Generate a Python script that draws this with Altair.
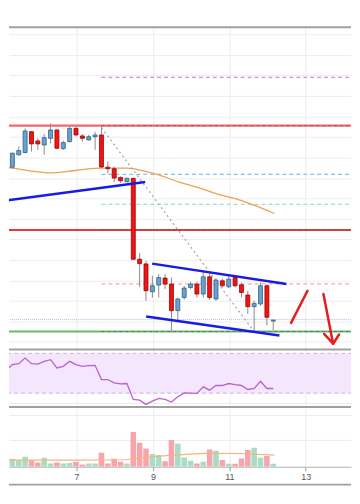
import altair as alt
import pandas as pd

# ---------------- data (4h candles) ----------------
START_DAY = 5.151
STEP_DAYS = 1 / 6

opens = [182.3, 184.3, 196.7, 199, 220, 210.7, 206.7, 213.3, 221.7, 203, 210, 223.3, 215.7, 211.7, 215,
         216.7, 184.3, 182.7, 174, 169.7, 173, 91.7, 87, 59, 65.7, 72.7, 66.7, 40, 53.3, 63.3,
         66.7, 56.7, 74, 51.7, 70, 64, 73.3, 66, 55.7, 44, 46.7, 65, 29.5]
closes = [185, 198.3, 201, 220.7, 207.7, 207.7, 214, 221.7, 203.3, 209, 223.3, 216.7, 213.3, 215, 216.7,
          184.5, 182.7, 173.3, 170.7, 173, 91.7, 87.3, 60, 65, 73.3, 66.7, 40, 51.7, 62.7, 66.7,
          56.7, 74, 53.3, 70.7, 65, 71.7, 65, 58.3, 44, 47.3, 65, 33.3, 30.5]
highs = [188.3, 199, 205, 223.3, 220.5, 213.3, 217.7, 228.3, 222.3, 211, 225, 225, 217.7, 216.7, 220,
         225, 190, 185, 175, 174, 174, 98, 90, 75, 76.7, 76.7, 73.3, 53.3, 65, 69,
         69, 79.3, 78.3, 72.3, 72.3, 75, 75, 68.3, 60, 50, 68.3, 66.7, 30.7]
lows = [181.7, 183.3, 196, 198.3, 200, 201.7, 196.7, 208.3, 202.7, 201.7, 209.3, 216, 210, 211, 201.7,
        183.3, 178.3, 169, 168.3, 169, 91, 64, 50, 53, 53.3, 61.7, 18.3, 30, 51, 61.7,
        53.3, 53.3, 50.7, 50, 63.3, 62.7, 63.3, 53.3, 36.7, 18.3, 45, 25, 20]
volumes = [4.3, 8, 6.7, 10, 6.7, 4.3, 9, 3.3, 4.3, 3.3, 3.7, 5, 2.3, 3.3, 3.3,
           14, 3.3, 8, 5, 3.3, 35, 24, 18.3, 12.7, 11.7, 5.5, 27, 23, 9.3, 6,
           3.3, 5, 17.3, 16, 6.7, 3, 3, 8.3, 16.7, 19, 9, 10.7, 3]
rsi_values = [53, 58.7, 59.7, 65.3, 59.7, 59.3, 62, 63.7, 55.3, 57, 62, 58.7, 57, 57.7, 58,
              43.7, 43.7, 40.3, 39.3, 39.7, 23.7, 23, 18.7, 22, 24.7, 23.7, 21, 26.3, 30.3, 30,
              29.7, 36.3, 33, 37.7, 37.7, 39.7, 38.5, 37.7, 33.7, 34.7, 42, 34.7, 34.7]

ma_days = [5.021, 5.464, 5.880, 6.323, 6.766, 7.182, 7.625, 8.328, 8.797, 9.109, 9.708, 10.229,
           10.750, 11.089, 11.609, 12.182]
ma_prices = [185, 182.5, 180, 178.5, 180, 182, 183.3, 183.3, 180, 177, 169, 163.3, 156.7, 153.3,
             146.7, 137.7]

vol_ma_days = [5.021, 7.104, 8.276, 8.667, 9.448, 10.359, 11.271, 12.182]
vol_ma_values = [6.7, 6.7, 7, 9, 11.5, 13.5, 13.3, 11.7]

level_prices = [274.7, 226, 177, 147, 121, 67, 31, 19]
level_starts = [7.651, 5.0, 7.651, 7.651, 5.0, 7.651, 5.0, 5.0]
overlay_prices = [226, 121, 19]

trend_days = [5.021, 8.797, 8.979, 12.495, 8.823, 12.3125]
trend_prices = [150, 169.3, 87.3, 66.7, 34, 15]
trend_ids = ["a", "a", "b", "b", "c", "c"]

diag_days = [7.651, 11.609]
diag_prices = [224, 21]

arrow_days = [12.617, 13.049, 13.466, 13.719, 13.484, 13.719, 13.875]
arrow_prices = [27.7, 60, 56.7, 6.7, 16.7, 6.7, 16]
arrow_ids = ["s", "s", "a", "a", "h", "h", "h"]

tick_days = [7, 9, 11, 13]
price_grid = [317.7, 297.1, 276.5, 255.9, 235.3, 214.7, 194.1, 173.5, 152.9, 132.3, 111.7, 91.1,
              70.5, 49.9, 29.3, 8.7]
rsi_grid = [20.3, 40.3, 60.3]
vol_grid = [27.5, 52]

# ---------------- frames ----------------
n = len(opens)
candles = pd.DataFrame({
    "t": [START_DAY + i * STEP_DAYS for i in range(n)],
    "open": opens, "close": closes, "high": highs, "low": lows,
    "volume": volumes, "rsi": rsi_values,
})
candles["lo"] = candles[["open", "close"]].min(axis=1)
candles["hi"] = candles[["open", "close"]].max(axis=1)
candles["dir"] = ["up" if c >= o else "down" for o, c in zip(opens, closes)]

ma_df = pd.DataFrame({"t": ma_days, "p": ma_prices})
vma_df = pd.DataFrame({"t": vol_ma_days, "v": vol_ma_values})
trend_df = pd.DataFrame({"t": trend_days, "p": trend_prices, "id": trend_ids})
diag_df = pd.DataFrame({"t": diag_days, "p": diag_prices})
arrow_df = pd.DataFrame({"t": arrow_days, "p": arrow_prices, "id": arrow_ids,
                         "o": list(range(len(arrow_days)))})
one = pd.DataFrame({"k": [0]})

# ---------------- styles ----------------
W = 344
GRID = "#ececec"
BORDER = "#a0a0a0"
X_DOMAIN = [5.229, 14.1875]
xscale = alt.Scale(domain=X_DOMAIN, nice=False, zero=False, padding=0)
x_grid_axis = alt.Axis(values=tick_days, labels=False, ticks=False, domain=False, grid=True,
                       gridColor=GRID, title=None, minExtent=0, maxExtent=0)


def XQ(field, axis=x_grid_axis):
    return alt.X(field, type="quantitative", scale=xscale, axis=axis)


def y_axis(vals):
    return alt.Axis(values=vals, labels=False, ticks=False, domain=False, grid=True,
                    gridColor=GRID, title=None, minExtent=0, maxExtent=0)


ym_scale = alt.Scale(domain=[2, 325], nice=False, zero=False, padding=0)


def YM(field):
    return alt.Y(field, type="quantitative", scale=ym_scale, axis=y_axis(price_grid))


def border(y, width=2):
    return alt.Chart(one).mark_rule(color=BORDER, strokeWidth=width).encode(
        x=alt.value(0), x2=alt.value(W), y=alt.value(y))


level_styles = [
    dict(color="#c98fe2", strokeWidth=1.3, strokeDash=[4, 3]),
    dict(color="#f26868", strokeWidth=2.2),
    dict(color="#86c3e0", strokeWidth=1.2, strokeDash=[4, 3]),
    dict(color="#86d6b4", strokeWidth=1.2, strokeDash=[4, 3]),
    dict(color="#e83a3a", strokeWidth=2),
    dict(color="#f5a8a8", strokeWidth=1.3, strokeDash=[4, 3]),
    dict(color="#a9bde8", strokeWidth=1, strokeDash=[1, 1]),
    dict(color="#66bb66", strokeWidth=2),
]

layers = []
for p, s, st in zip(level_prices, level_starts, level_styles):
    d = pd.DataFrame({"t0": [s], "t1": [15.0], "p": [p]})
    layers.append(alt.Chart(d).mark_rule(clip=True, **st).encode(
        x=XQ("t0"), x2="t1", y=YM("p")))
for p in overlay_prices:
    d = pd.DataFrame({"t0": [level_starts[0]], "t1": [15.0], "p": [p]})
    layers.append(alt.Chart(d).mark_rule(clip=True, color="#5a5a7a", strokeWidth=1,
                                         strokeDash=[3, 3], opacity=0.7).encode(
        x=XQ("t0"), x2="t1", y=YM("p")))

layers.append(alt.Chart(ma_df).mark_line(clip=True, color="#f0a050", strokeWidth=1.3,
                                         interpolate="monotone").encode(x=XQ("t"), y=YM("p")))
layers.append(alt.Chart(diag_df).mark_line(clip=True, color="#a8a8a8", strokeWidth=1.3,
                                           strokeDash=[2, 3]).encode(x=XQ("t"), y=YM("p")))
layers.append(alt.Chart(candles).mark_rule(clip=True, color="#8c8c8c", strokeWidth=1).encode(
    x=XQ("t"), y=YM("low"), y2="high"))
layers.append(alt.Chart(candles).mark_bar(clip=True, size=4, strokeWidth=0.8).encode(
    x=XQ("t"), y=YM("lo"), y2="hi",
    fill=alt.Fill("dir:N", scale=alt.Scale(domain=["up", "down"], range=["#6aa0d8", "#ee1515"]),
                  legend=None),
    stroke=alt.Stroke("dir:N", scale=alt.Scale(domain=["up", "down"], range=["#2f6474", "#a00000"]),
                      legend=None)))
layers.append(alt.Chart(trend_df).mark_line(clip=True, color="#1a1ae6", strokeWidth=2.5).encode(
    x=XQ("t"), y=YM("p"), detail="id:N"))
layers.append(alt.Chart(arrow_df).mark_line(clip=True, color="#e81c1c", strokeWidth=2.5,
                                            strokeCap="round", strokeJoin="round").encode(
    x=XQ("t"), y=YM("p"), detail="id:N", order="o:Q"))
layers.append(border(0, 2))

main = alt.layer(*layers).properties(width=W, height=323)

# ---------------- RSI ----------------
yr_scale = alt.Scale(domain=[16, 74], nice=False, zero=False, padding=0)


def YR(field):
    return alt.Y(field, type="quantitative", scale=yr_scale, axis=y_axis(rsi_grid))


band = pd.DataFrame({"t0": [5.0], "t1": [15.0], "lo": [30], "hi": [70]})
band_edges = pd.DataFrame({"t0": [5.0, 5.0], "t1": [15.0, 15.0], "r": [30, 70]})
rsi_chart = alt.layer(
    alt.Chart(band).mark_rect(clip=True, color="#f3e6fd").encode(
        x=XQ("t0"), x2="t1", y=YR("lo"), y2="hi"),
    alt.Chart(band_edges).mark_rule(clip=True, color="#cdb0e0", strokeWidth=1,
                                    strokeDash=[4, 3]).encode(x=XQ("t0"), x2="t1", y=YR("r")),
    alt.Chart(candles).mark_line(clip=True, color="#b862d2", strokeWidth=1.3).encode(
        x=XQ("t"), y=YR("rsi")),
    border(0, 2),
    border(58, 2),
).properties(width=W, height=58)

# ---------------- volume ----------------
yv_scale = alt.Scale(domain=[0, 59], nice=False, zero=True, padding=0)


def YV(field):
    return alt.Y(field, type="quantitative", scale=yv_scale, axis=y_axis(vol_grid))


x_label_axis = alt.Axis(values=tick_days, grid=True, gridColor=GRID, domain=True, domainColor="#b0b0b0",
                        ticks=True, tickColor="#999999", tickSize=4, labelFontSize=9,
                        labelColor="#555555", labelFont="Liberation Sans", labelPadding=2,
                        format="d", title=None)
vol_chart = alt.layer(
    alt.Chart(candles).mark_bar(clip=True, size=5.6).encode(
        x=XQ("t", x_label_axis), y=YV("volume"),
        color=alt.Color("dir:N", scale=alt.Scale(domain=["up", "down"], range=["#a8dcc4", "#f6a5ad"]),
                        legend=None)),
    alt.Chart(vma_df).mark_line(clip=True, color="#fbb27a", strokeWidth=1.2).encode(
        x=XQ("t", x_label_axis), y=YV("v")),
    border(77, 2),
).properties(width=W, height=59)

chart = alt.vconcat(main, rsi_chart, vol_chart, spacing=0).properties(
    padding={"left": 0, "right": 0, "top": 17, "bottom": 0}
).configure_view(stroke=None).resolve_scale(x="shared")

chart.save("out.html", embed_options={"renderer": "svg", "actions": False})
